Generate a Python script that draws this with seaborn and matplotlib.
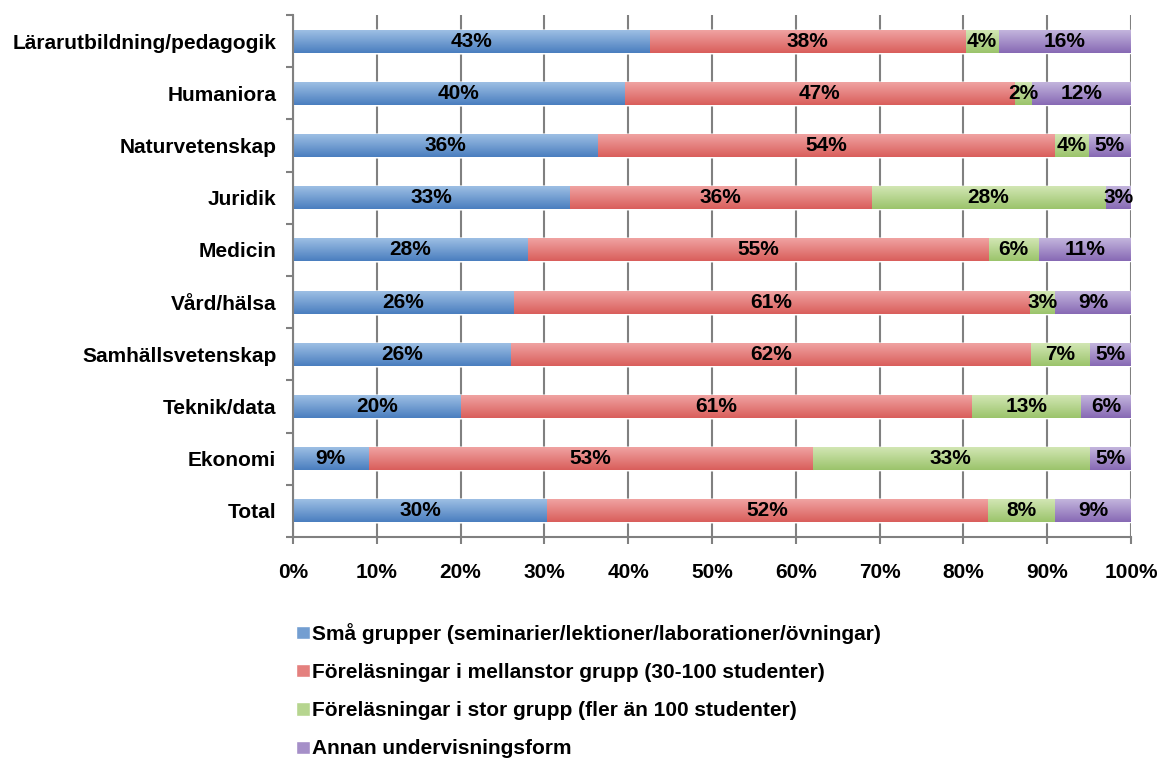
import numpy as np
import pandas as pd
import seaborn as sns
import matplotlib.pyplot as plt
from matplotlib.patches import Patch
from matplotlib.colors import to_rgb

# values as printed on the bars (percent)
categories = ["Lärarutbildning/pedagogik", "Humaniora", "Naturvetenskap", "Juridik", "Medicin",
              "Vård/hälsa", "Samhällsvetenskap", "Teknik/data", "Ekonomi", "Total"]
sma = [43, 40, 36, 33, 28, 26, 26, 20, 9, 30]
mellan = [38, 47, 54, 36, 55, 61, 62, 61, 53, 52]
stor = [4, 2, 4, 28, 6, 3, 7, 13, 33, 8]
annan = [16, 12, 5, 3, 11, 9, 5, 6, 5, 9]

series = ["Små grupper (seminarier/lektioner/laborationer/övningar)",
          "Föreläsningar i mellanstor grupp (30-100 studenter)",
          "Föreläsningar i stor grupp (fler än 100 studenter)",
          "Annan undervisningsform"]

light = ["#9DBFE4", "#F0A3A2", "#D2E6B4", "#C3B5DD"]
dark = ["#4A7EBF", "#D95E5B", "#9BC46B", "#8769B4"]

sns.set_theme(style="white")
plt.rcParams['font.family'] = ['Liberation Sans', 'DejaVu Sans']
plt.rcParams['font.weight'] = 'bold'
plt.rcParams['text.color'] = 'black'
plt.rcParams['xtick.color'] = 'black'
plt.rcParams['ytick.color'] = 'black'

df = pd.DataFrame({"kategori": categories, series[0]: sma, series[1]: mellan,
                   series[2]: stor, series[3]: annan})
vals = df[series]
# 100% stacked, like the original
share = vals.div(vals.sum(axis=1), axis=0) * 100
cum = share.cumsum(axis=1)

fig = plt.figure(figsize=(11.6, 7.58), dpi=100)
ax = fig.add_axes([0.2526, 0.2916, 0.7224, 0.6887])

# draw cumulative bars from the longest to the shortest
bar_color = []
for i in reversed(range(len(series))):
    n0 = len(ax.patches)
    sns.barplot(x=cum[series[i]], y=df["kategori"], orient="y", color=dark[i],
                saturation=1, width=0.44, ax=ax, zorder=2)
    bar_color += [i] * (len(ax.patches) - n0)

# vertical gradient on each bar
t = np.linspace(0, 1, 60)[:, None, None]
for p, i in zip(ax.patches, bar_color):
    c = np.array(to_rgb(light[i])) * (1 - t) + np.array(to_rgb(dark[i])) * t
    x, y, w, h = p.get_x(), p.get_y(), p.get_width(), p.get_height()
    im = ax.imshow(c, extent=[x, x + w, y + h, y], origin='upper', aspect='auto',
                   interpolation='bilinear', zorder=2)
    im.set_clip_path(p)

# data labels
for i, s in enumerate(series):
    for j in range(len(categories)):
        xc = cum[s].iloc[j] - share[s].iloc[j] / 2
        ax.text(xc, j, f"{vals[s].iloc[j]}%", ha='center', va='center',
                fontsize=15, fontweight='bold', color='black', zorder=5)

ax.set_xlim(0, 100)
ax.set_ylim(len(categories) - 0.5, -0.5)
ax.set_xticks(range(0, 101, 10))
ax.set_xticklabels([f"{v}%" for v in range(0, 101, 10)])
ax.set_yticks(np.arange(-0.5, len(categories), 1), minor=True)
ax.set_xlabel("")
ax.set_ylabel("")

ax.grid(axis='x', color='#808080', linewidth=1.5)
ax.set_axisbelow(True)
for side in ['top', 'right']:
    ax.spines[side].set_visible(False)
for side in ['left', 'bottom']:
    ax.spines[side].set_color('#808080')
    ax.spines[side].set_linewidth(1.5)

ax.tick_params(axis='x', bottom=True, length=5, width=1.5, color='#808080', pad=14, labelsize=15)
ax.tick_params(axis='y', which='major', left=True, length=0, pad=12, labelsize=15)
ax.tick_params(axis='y', which='minor', left=True, length=5, width=1.5, color='#808080')

handles = [Patch(facecolor=sns.blend_palette([light[i], dark[i]], 3)[1]) for i in range(len(series))]
fig.legend(handles, series, loc='upper left', bbox_to_anchor=(296 / 1160, 1 - 623 / 758),
           frameon=False, fontsize=15, labelspacing=0.92, borderpad=0, borderaxespad=0,
           handlelength=0.65, handleheight=0.6, handletextpad=0.12)

plt.savefig("out.png", dpi=100)
